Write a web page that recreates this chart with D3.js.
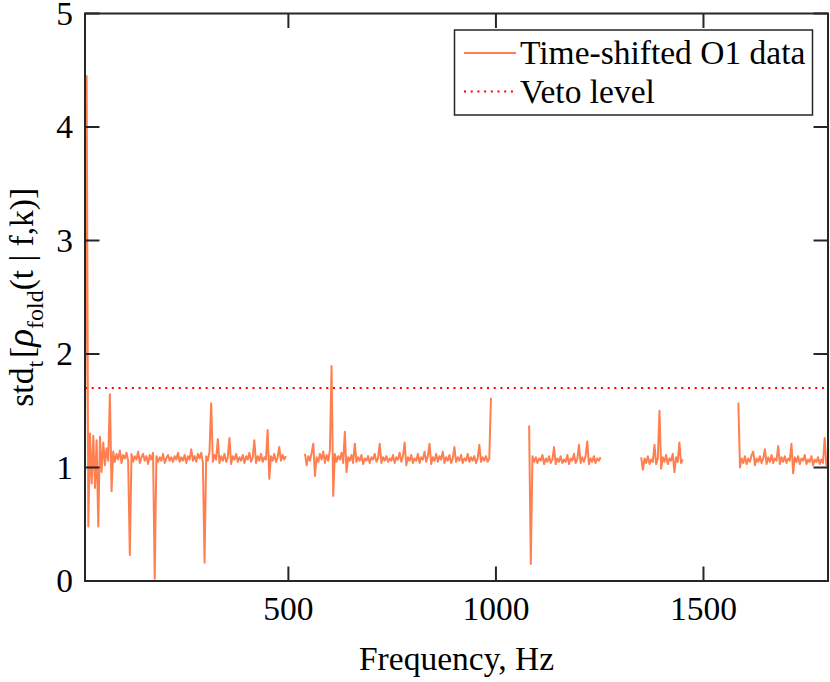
<!DOCTYPE html>
<html>
<head>
<meta charset="utf-8">
<script src="https://cdn.jsdelivr.net/npm/d3@7"></script>
<style>
  body { margin: 0; background: #fff; }
  svg { display: block; font-family: "Liberation Serif", "DejaVu Serif", serif; }
</style>
</head>
<body>
<div id="chart"></div>
<script>
// frequency bins are 4 Hz apart inside each analysed band
var freqStep = 4;

var band1Start = 10;
var band1Vals = [1.00,4.45,0.48,1.30,0.86,1.28,0.82,1.24,0.48,1.27,0.96,1.22,1.02,1.17,1.06,1.645,0.79,1.14,1.05,1.12,
  1.07,1.15,1.04,1.11,1.08,1.13,1.06,0.23,1.12,1.05,1.10,1.07,1.14,1.04,1.09,1.12,1.06,1.10,1.03,1.11,
  1.07,1.13,0.02,1.10,1.05,1.09,1.06,1.12,1.04,1.08,1.11,1.06,1.09,1.05,1.10,1.07,1.13,1.05,1.09,1.06,
  1.11,1.04,1.10,1.07,1.16,1.06,1.10,1.05,1.12,1.08,1.13,1.04,0.16,1.10,1.06,1.14,1.565,1.05,1.11,1.07,
  1.25,1.04,1.10,1.06,1.12,1.05,1.09,1.26,1.03,1.10,1.07,1.12,1.05,1.09,1.06,1.11,1.04,1.10,1.07,1.13,
  1.05,1.09,1.24,1.04,1.10,1.06,1.12,1.05,1.09,1.07,1.33,0.90,1.10,1.06,1.12,1.05,1.09,1.18,1.06,1.11,
  1.07,1.10];

var band2Start = 540;
var band2Vals = [1.12,1.02,1.10,1.06,1.13,1.21,0.925,1.09,1.05,1.12,1.07,1.14,1.04,1.11,1.06,1.15,1.894,0.75,1.12,1.05,
  1.10,1.07,1.13,1.04,1.315,0.96,1.09,1.06,1.11,1.04,1.21,1.05,1.09,1.06,1.11,1.03,1.08,1.06,1.10,1.04,
  1.09,1.07,1.12,1.05,1.08,1.21,1.04,1.09,1.06,1.10,1.05,1.08,1.06,1.11,1.04,1.09,1.07,1.13,1.05,1.10,
  1.22,1.02,1.09,1.06,1.11,1.04,1.08,1.06,1.12,1.04,1.09,1.07,1.14,1.05,1.10,1.21,1.03,1.09,1.06,1.12,
  1.05,1.10,1.07,1.14,1.04,1.09,1.06,1.11,1.04,1.08,1.18,1.05,1.09,1.06,1.11,1.04,1.08,1.06,1.12,1.05,
  1.09,1.06,1.10,1.04,1.08,1.20,1.05,1.09,1.06,1.10,1.05,1.08,1.615];

var band3Start = 1080;
var band3Vals = [1.37,0.15,1.10,1.05,1.09,1.04,1.08,1.06,1.11,1.03,1.08,1.05,1.10,1.04,1.07,1.18,1.03,1.08,1.05,1.10,
  1.04,1.07,1.05,1.11,1.03,1.08,1.06,1.12,1.04,1.07,1.20,1.04,1.09,1.05,1.10,1.23,1.03,1.08,1.05,1.10,
  1.04,1.08,1.06,1.09];

var band4Start = 1350;
var band4Vals = [1.09,0.98,1.08,1.04,1.10,1.03,1.07,1.05,1.20,1.03,1.08,1.50,0.99,1.09,1.05,1.11,1.03,1.08,1.06,1.12,
  0.96,1.09,1.05,1.22,1.04,1.07];

var band5Start = 1584;
var band5Vals = [1.57,1.00,1.08,1.04,1.10,1.03,1.08,1.05,1.11,1.14,1.02,1.08,1.05,1.10,1.04,1.08,1.16,1.03,1.09,1.05,
  1.11,1.04,1.08,1.06,1.19,1.03,1.09,1.05,1.10,1.04,1.08,1.06,1.21,0.95,1.09,1.05,1.10,1.03,1.08,1.06,
  1.11,1.03,1.07,1.05,1.10,1.02,1.07,1.05,1.09,1.03,1.07,1.04,1.26,1.02,1.06];

var vetoLevel = 1.7;
var xTicks = [500, 1000, 1500];
var yTicks = [0, 1, 2, 3, 4, 5];
var legendLabels = ["Time-shifted O1 data", "Veto level"];

var W = 830, H = 682;
var pL = 85, pR = 828, pT = 13.5, pB = 581;
var axisCol = "#262626", lineCol = "#ff7f50", vetoCol = "#ff0000";
var fs = 33.5;

var svg = d3.select("#chart").append("svg").attr("width", W).attr("height", H);

var x = d3.scaleLinear().domain([10, 1800]).range([pL, pR]);
var y = d3.scaleLinear().domain([0, 5]).range([pB, pT]);

// build the separate bands (gaps between them stay empty)
var bands = [[band1Start, band1Vals], [band2Start, band2Vals], [band3Start, band3Vals],
             [band4Start, band4Vals], [band5Start, band5Vals]].map(function(b) {
  return b[1].map(function(v, i) { return {f: b[0] + i * freqStep, v: v}; });
});

var line = d3.line().x(function(d){ return x(d.f); }).y(function(d){ return y(d.v); });

var plot = svg.append("g");
bands.forEach(function(pts) {
  plot.append("path")
    .attr("d", line(pts))
    .attr("fill", "none")
    .attr("stroke", lineCol)
    .attr("stroke-width", 2)
    .attr("stroke-linejoin", "round");
});

plot.append("line")
  .attr("x1", x(10)).attr("x2", x(1800))
  .attr("y1", y(vetoLevel)).attr("y2", y(vetoLevel))
  .attr("stroke", vetoCol).attr("stroke-width", 2)
  .attr("stroke-dasharray", "2,4.7");

// axes, ticks pointing inward on all four sides
var tl = 14.5;
var ax = svg.append("g").attr("font-size", fs).attr("fill", "#000");
ax.append("rect").attr("x", pL).attr("y", pT).attr("width", pR - pL).attr("height", pB - pT)
  .attr("fill", "none").attr("stroke", axisCol).attr("stroke-width", 2);

xTicks.forEach(function(t) {
  ax.append("line").attr("x1", x(t)).attr("x2", x(t)).attr("y1", pB).attr("y2", pB - tl)
    .attr("stroke", axisCol).attr("stroke-width", 2);
  ax.append("line").attr("x1", x(t)).attr("x2", x(t)).attr("y1", pT).attr("y2", pT + tl)
    .attr("stroke", axisCol).attr("stroke-width", 2);
  ax.append("text").attr("x", x(t)).attr("y", pB + 39).attr("text-anchor", "middle").text(t);
});
yTicks.forEach(function(t) {
  ax.append("line").attr("x1", pL).attr("x2", pL + tl).attr("y1", y(t)).attr("y2", y(t))
    .attr("stroke", axisCol).attr("stroke-width", 2);
  ax.append("line").attr("x1", pR).attr("x2", pR - tl).attr("y1", y(t)).attr("y2", y(t))
    .attr("stroke", axisCol).attr("stroke-width", 2);
  ax.append("text").attr("x", pL - 12).attr("y", y(t) + 11).attr("text-anchor", "end").text(t);
});

ax.append("text").attr("x", (pL + pR) / 2).attr("y", 670).attr("text-anchor", "middle")
  .text("Frequency, Hz");

// y label: std_t[ rho_fold (t | f,k) ]
var yl = ax.append("text")
  .attr("transform", "translate(33," + ((pT + pB) / 2) + ") rotate(-90)")
  .attr("text-anchor", "middle");
yl.append("tspan").text("std");
yl.append("tspan").attr("font-size", 24).attr("dy", 10).text("t");
yl.append("tspan").attr("dy", -10).attr("dx", 3).text("[");
yl.append("tspan").attr("font-style", "italic").attr("font-size", 37).text("ρ");
yl.append("tspan").attr("font-size", 24).attr("dy", 10).text("fold");
yl.append("tspan").attr("dy", -10).text("(t | f,k)]");

// legend
var lg = svg.append("g");
lg.append("rect").attr("x", 454.5).attr("y", 30).attr("width", 358).attr("height", 85)
  .attr("fill", "#fff").attr("stroke", axisCol).attr("stroke-width", 1.5);
var rowY = [53, 91.5];
lg.append("line").attr("x1", 464).attr("x2", 516).attr("y1", rowY[0]).attr("y2", rowY[0])
  .attr("stroke", lineCol).attr("stroke-width", 1.8);
lg.append("line").attr("x1", 464).attr("x2", 516).attr("y1", rowY[1]).attr("y2", rowY[1])
  .attr("stroke", vetoCol).attr("stroke-width", 2).attr("stroke-dasharray", "2,4.7");
legendLabels.forEach(function(s, i) {
  lg.append("text").attr("x", 520).attr("y", rowY[i] + 11).attr("font-size", fs).text(s);
});
</script>
</body>
</html>
